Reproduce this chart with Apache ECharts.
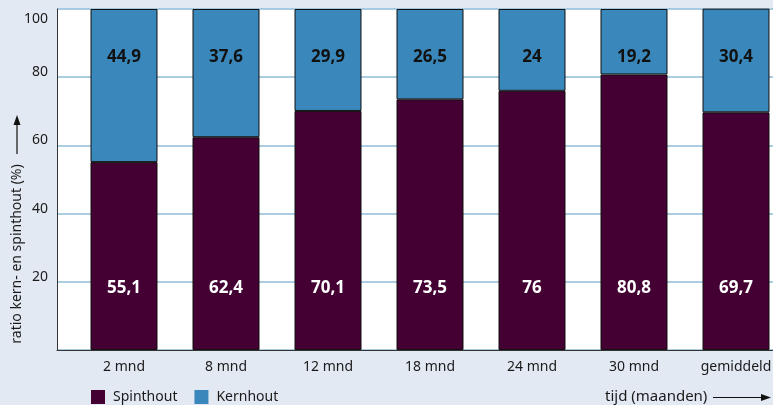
<!DOCTYPE html>
<html>
<head>
<meta charset="utf-8">
<script src="https://cdn.jsdelivr.net/npm/echarts@6/dist/echarts.min.js"></script>
<style>
html,body{margin:0;padding:0;background:#e3e9f3;}
#c{width:773px;height:405px;}
</style>
</head>
<body>
<div id="c"></div>
<script>
var categories = ['2 mnd', '8 mnd', '12 mnd', '18 mnd', '24 mnd', '30 mnd', 'gemiddeld'];
var spinthout = [55.1, 62.4, 70.1, 73.5, 76, 80.8, 69.7];
var kernhout = [44.9, 37.6, 29.9, 26.5, 24, 19.2, 30.4];
var yTicks = [20, 40, 60, 80, 100];

var FONT = '"Noto Sans", sans-serif';
var chart = echarts.init(document.getElementById('c'), null, {renderer: 'canvas'});

function fmtNum(v) { return String(v).replace('.', ','); }

var option = {
  backgroundColor: '#e3e9f3',
  animation: false,
  textStyle: {fontFamily: FONT},
  grid: [
    {left: 57, right: 0, top: 9, bottom: 55, show: true, backgroundColor: '#ffffff', borderWidth: 0,
     containLabel: false, outerBoundsMode: 'none'},
    {left: 73, width: 714, top: 9, bottom: 55, show: false,
     containLabel: false, outerBoundsMode: 'none'}
  ],
  legend: {
    left: 91, top: 390, padding: 0, itemWidth: 14, itemHeight: 14, itemGap: 17,
    icon: 'rect',
    textStyle: {fontFamily: FONT, fontSize: 14, color: '#1a1a1a', padding: [0, 0, 0, 3]},
    itemStyle: {borderWidth: 0},
    data: ['Spinthout', 'Kernhout']
  },
  xAxis: [
    {
      gridIndex: 0, type: 'value', min: 0, max: 1,
      splitLine: {show: false}, axisTick: {show: false}, axisLabel: {show: false},
      axisLine: {show: true, onZero: false, lineStyle: {color: '#333', width: 1}}
    },
    {
      gridIndex: 1, type: 'category', data: categories,
      axisLine: {show: false}, axisTick: {show: false},
      axisLabel: {fontFamily: FONT, fontSize: 14, color: '#1a1a1a', margin: 10, interval: 0}
    }
  ],
  yAxis: [
    {
      gridIndex: 0, type: 'value', min: 0, max: 100, interval: 20,
      axisLine: {show: true, onZero: false, lineStyle: {color: '#333', width: 1}},
      axisTick: {show: false},
      splitLine: {show: true, lineStyle: {color: '#8fbcd9', width: 1.5}},
      axisLabel: {
        fontFamily: FONT, fontSize: 14, color: '#1a1a1a', margin: 9,
        lineHeight: 10, verticalAlign: 'middle',
        formatter: function (v) {
          if (yTicks.indexOf(v) < 0) return '';
          return v === 100 ? ' \n \n' + v : v + '\n ';
        }
      }
    },
    {
      gridIndex: 1, type: 'value', min: 0, max: 100, show: false,
      splitLine: {show: false}
    }
  ],
  series: [
    {
      name: 'Spinthout', type: 'bar', stack: 'a', barWidth: 67,
      xAxisIndex: 1, yAxisIndex: 1,
      data: spinthout,
      itemStyle: {color: '#440033', borderColor: '#111', borderWidth: 1},
      label: {
        show: true, position: 'insideBottom', distance: 53,
        formatter: function (p) { return fmtNum(p.value); },
        color: '#ffffff', fontFamily: FONT, fontSize: 17, fontWeight: 'bold'
      }
    },
    {
      name: 'Kernhout', type: 'bar', stack: 'a', barWidth: 67,
      xAxisIndex: 1, yAxisIndex: 1,
      data: kernhout,
      itemStyle: {color: '#3a88bb', borderColor: '#111', borderWidth: 1},
      label: {
        show: true, position: 'insideTop', distance: 40,
        formatter: function (p) { return fmtNum(p.value); },
        color: '#111111', fontFamily: FONT, fontSize: 17, fontWeight: 'bold'
      }
    }
  ],
  graphic: [
    {type: 'text', x: 17, y: 254, rotation: Math.PI / 2,
     style: {text: 'ratio kern- en spinthout (%)', fill: '#1a1a1a', font: '14px ' + FONT, textAlign: 'center', textVerticalAlign: 'middle'}},
    {type: 'line', shape: {x1: 17, y1: 154, x2: 17, y2: 122}, style: {stroke: '#111', lineWidth: 1.2}},
    {type: 'polygon', shape: {points: [[17, 115], [13.5, 125], [20.5, 125]]}, style: {fill: '#111'}},
    {type: 'text', x: 605, y: 397,
     style: {text: 'tijd (maanden)', fill: '#1a1a1a', font: '15px ' + FONT, textAlign: 'left', textVerticalAlign: 'middle'}},
    {type: 'line', shape: {x1: 713, y1: 397.5, x2: 763, y2: 397.5}, style: {stroke: '#111', lineWidth: 1.2}},
    {type: 'polygon', shape: {points: [[771, 397.5], [761, 394], [761, 401]]}, style: {fill: '#111'}}
  ]
};
chart.setOption(option);
</script>
</body>
</html>
